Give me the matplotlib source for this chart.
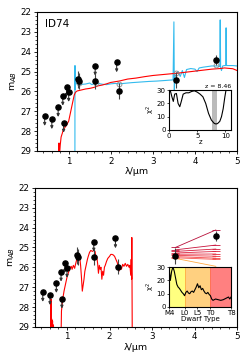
import numpy as np
import matplotlib
matplotlib.use("Agg")
import matplotlib.pyplot as plt

# ---------------- data ----------------
# photometry: upper limits
lim_wl = [0.43, 0.60, 0.75, 0.86, 0.88, 0.95, 1.00, 1.63, 2.14]
lim_mag = [27.24, 27.40, 26.79, 26.22, 27.58, 25.78, 26.03, 24.71, 24.54]
# photometry: detections
det_wl = [1.23, 1.25, 1.63, 2.20, 3.54, 4.50]
det_mag = [25.40, 25.48, 25.48, 25.98, 25.43, 24.44]
det_err = [0.42, 0.42, 0.42, 0.38, 0.42, 0.25]

# high-z galaxy template (red), z = 8.46
gal_wl = [0.76, 0.77, 0.78, 0.80, 0.82, 0.85, 0.87, 0.90, 0.95, 1.00, 1.03, 1.06,
          1.10, 1.13, 1.16, 1.20, 1.30, 1.40, 1.50, 1.60, 1.70, 1.80, 1.90, 2.00,
          2.20, 2.40, 2.60, 2.80, 3.00, 3.20, 3.40, 3.60, 3.80, 4.00, 4.20, 4.40,
          4.60, 4.70, 4.80, 4.90, 5.00]
gal_mag = [29.5, 28.6, 29.3, 28.7, 28.3, 28.1, 27.95, 27.85, 27.7, 27.5, 27.2, 26.9,
           26.5, 26.2, 26.05, 25.98, 25.93, 25.88, 25.85, 25.80, 25.72, 25.68, 25.62, 25.55,
           25.48, 25.38, 25.33, 25.26, 25.20, 25.16, 25.12, 25.08, 25.03, 24.98, 24.93, 24.88,
           24.85, 24.82, 24.84, 24.86, 24.95]

# low-z galaxy template (blue)
lowz_wl = [1.148, 1.150, 1.152, 1.156, 1.20, 1.30, 1.40, 1.50, 1.55, 1.60, 1.70, 1.80,
           1.90, 2.00, 2.10, 2.20, 2.30, 2.50, 2.70, 2.90, 3.10, 3.30, 3.48, 3.50,
           3.51, 3.52, 3.55, 3.60, 3.65, 3.70, 3.75, 3.80, 3.90, 4.00, 4.05, 4.10,
           4.20, 4.30, 4.40, 4.55, 4.59, 4.60, 4.61, 4.63, 4.66, 4.70, 4.73, 4.74,
           4.75, 4.76, 4.80, 4.90, 5.00]
lowz_mag = [29.5, 24.7, 25.9, 25.60, 25.62, 25.65, 25.63, 25.58, 25.66, 25.62, 25.60, 25.64,
            25.66, 25.62, 25.60, 25.62, 25.60, 25.56, 25.53, 25.50, 25.48, 25.45, 25.42, 22.5,
            25.95, 25.30, 25.15, 25.00, 25.25, 24.95, 25.30, 24.90, 24.85, 24.88, 25.00, 24.82,
            24.78, 24.75, 24.72, 24.72, 24.75, 22.4, 24.80, 24.95, 24.72, 24.70, 24.70, 22.8,
            24.70, 24.70, 24.70, 24.70, 24.72]
# low-z model photometry
modl_wl = [1.25, 1.65, 2.20, 3.55, 4.50]
modl_mag = [25.60, 25.58, 25.65, 25.05, 24.68]

# brown dwarf template (bottom)
bd_wl = [0.62, 0.625, 0.63, 0.64, 0.65, 0.66, 0.67, 0.68, 0.70, 0.86, 0.87, 0.88, 0.90, 0.93,
         0.96, 1.00, 1.03, 1.06, 1.08, 1.10, 1.12, 1.15, 1.18, 1.20, 1.23, 1.26, 1.28,
         1.30, 1.32, 1.34, 1.36, 1.38, 1.40, 1.42, 1.45, 1.48, 1.50, 1.53, 1.56, 1.60,
         1.63, 1.66, 1.68, 1.70, 1.72, 1.74, 1.76, 1.78, 1.80, 1.82, 1.84, 1.86, 1.88,
         1.90, 1.93, 1.96, 2.00, 2.03, 2.06, 2.09, 2.12, 2.15, 2.18, 2.20, 2.22, 2.25,
         2.28, 2.31, 2.34, 2.37, 2.40, 2.43, 2.46, 2.48, 2.50, 2.51, 2.52, 2.525, 2.53, 2.535]
bd_mag = [29.5, 27.6, 29.2, 28.6, 29.3, 28.7, 29.4, 28.9, 29.5, 29.5, 28.2, 28.0, 27.6, 27.2,
          26.9, 26.5, 26.3, 26.1, 26.0, 25.95, 26.1, 25.9, 26.05, 25.85, 25.6, 25.4, 25.35,
          25.5, 25.9, 26.5, 27.2, 26.9, 26.6, 26.2, 25.9, 25.6, 25.45, 25.25, 25.15, 25.2,
          25.15, 25.2, 25.5, 25.45, 25.8, 26.3, 25.9, 26.1, 26.0, 26.6, 26.2, 26.4, 26.0,
          25.9, 25.7, 25.55, 25.45, 25.35, 25.35, 25.38, 25.45, 25.6, 25.75, 25.9, 26.2, 25.95,
          26.1, 25.85, 25.95, 25.8, 25.95, 25.85, 26.0, 25.9, 26.4, 25.6, 26.6, 24.5, 27.0, 29.5]

# dwarf IRAC colours (3.6 -> 4.5 um)
dw_y36 = [25.00, 25.12, 25.20, 25.28, 25.34, 25.40, 25.46, 25.52]
dw_y45 = [24.12, 24.88, 25.08, 25.20, 25.33, 25.44, 25.54, 25.60]
dw_col = ["#b8103a", "#c8143c", "#d41c3c", "#dc2440", "#e42c40", "#ec3844", "#f24448", "#f8564e"]
dw_orange = [25.55, 25.95]

# chi2 vs z inset
chiz_z = [0.2, 0.5, 0.75, 1.0, 1.3, 1.6, 1.9, 2.2, 2.5, 3.0, 3.5, 4.0, 4.5, 5.0, 5.5,
          6.0, 6.5, 7.0, 7.5, 8.0, 8.3, 8.6, 9.0, 9.3, 9.6, 9.9, 10.1]
chiz_chi = [30.0, 25.0, 21.5, 27.0, 27.5, 20.0, 17.5, 22.0, 27.0, 28.0, 28.0, 29.0, 29.5, 28.5, 27.0,
            25.0, 20.0, 12.5, 7.5, 5.0, 4.5, 4.8, 6.5, 10.0, 16.0, 25.0, 30.0]
zbest = 8.46
zband = [7.6, 8.5]

# chi2 vs dwarf type inset (0 = M4 ... 24 = T8)
dt_idx = [0.0, 0.5, 1.0, 1.5, 2.0, 2.5, 3.0, 3.5, 4.0, 4.5, 5.0, 5.5, 6.0, 6.5, 7.0, 7.5,
          8.0, 8.5, 9.0, 9.5, 10.0, 10.5, 11.0, 11.5, 12.0, 12.5, 13.0, 13.5, 14.0, 14.5,
          15.0, 15.5, 16.0, 16.5, 17.0, 18.0, 19.0, 20.0, 21.0, 22.0, 23.0, 23.5, 24.0]
dt_chi = [30.0, 20.0, 27.0, 30.0, 27.0, 22.0, 17.0, 15.0, 14.0, 12.5, 11.0, 10.0, 8.5, 11.0, 12.0, 10.5,
          10.0, 11.5, 12.0, 11.0, 13.0, 15.0, 17.5, 14.5, 16.0, 13.0, 14.0, 12.0, 10.5, 10.0,
          11.0, 9.5, 8.5, 6.0, 5.0, 6.0, 5.5, 5.0, 5.5, 6.5, 7.5, 6.0, 7.5]
dt_ticks = [0, 6, 11, 16, 24]
dt_labels = ["M4", "L0", "L5", "T0", "T8"]

label_id = "ID74"

# ---------------- plotting ----------------
plt.rcParams['font.family'] = ['DejaVu Sans']
fig = plt.figure(figsize=(2.49, 3.62), dpi=100)

def setup_main(ax):
    ax.set_xlim(0.25, 5)
    ax.set_ylim(29, 22)
    ax.set_xticks([1, 2, 3, 4, 5])
    ax.set_yticks([22, 23, 24, 25, 26, 27, 28, 29])
    ax.set_xticks(np.arange(0.4, 5.0, 0.2), minor=True)
    ax.set_yticks(np.arange(22, 29.01, 0.2), minor=True)
    ax.tick_params(labelsize=6.3, length=2.5, width=0.6, pad=1.5)
    ax.tick_params(which='minor', length=1.3, width=0.5)
    ax.set_xlabel("λ/µm", fontsize=6.8, labelpad=1)
    ax.set_ylabel("m$_{AB}$", fontsize=6.8, labelpad=1)
    for s in ax.spines.values():
        s.set_linewidth(0.8)

def draw_phot(ax, z=5):
    for x, y in zip(lim_wl, lim_mag):
        ax.annotate("", xy=(x, y + 0.5), xytext=(x, y),
                    arrowprops=dict(arrowstyle="-|>", color="#333333", lw=0.8,
                                    mutation_scale=4, shrinkA=0, shrinkB=0), zorder=z)
    ax.plot(lim_wl, lim_mag, 'o', color='black', ms=3.7, zorder=z + 1)
    ax.errorbar(det_wl, det_mag, yerr=det_err, fmt='o', color='black', ecolor='#444444',
                ms=3.7, elinewidth=0.8, capsize=0, zorder=z + 1)

# top panel
ax1 = fig.add_axes([0.149, 0.583, 0.803, 0.384])
setup_main(ax1)
ax1.plot(gal_wl, gal_mag, color='red', lw=0.8, zorder=3)
ax1.plot(lowz_wl, lowz_mag, color='#33bbee', lw=0.8, zorder=2)
ax1.plot(modl_wl, modl_mag, 'o', mfc='none', mec='#888888', ms=3.5, mew=0.6, zorder=4)
draw_phot(ax1)
ax1.text(0.04, 0.95, label_id, transform=ax1.transAxes, fontsize=7.5, va='top', ha='left')

# top inset
ins1 = fig.add_axes([0.679, 0.641, 0.249, 0.110])
ins1.axvspan(zband[0], zband[1], color='#bbbbbb', lw=0)
ins1.plot(chiz_z, chiz_chi, color='black', lw=0.8)
ins1.set_xlim(0, 11)
ins1.set_ylim(0, 30)
ins1.set_xticks([0, 5, 10])
ins1.set_yticks([0, 10, 20, 30])
ins1.tick_params(labelsize=5, length=1.5, width=0.5, pad=1)
ins1.set_xlabel("z", fontsize=5, labelpad=0)
ins1.set_ylabel("χ$^2$", fontsize=5, labelpad=0)
ins1.text(1.0, 1.02, "z = %.2f" % zbest, transform=ins1.transAxes, fontsize=4.5,
          ha='right', va='bottom')
for s in ins1.spines.values():
    s.set_linewidth(0.8)

# bottom panel
ax2 = fig.add_axes([0.141, 0.097, 0.811, 0.384])
setup_main(ax2)
ax2.plot(bd_wl, bd_mag, color='red', lw=0.8, zorder=3)
for y1, y2, c in zip(dw_y36, dw_y45, dw_col):
    ax2.plot([3.55, 4.5], [y1, y2], color=c, lw=0.6, marker='_', ms=6, mew=0.6, zorder=2)
ax2.plot([3.55, 4.5], dw_orange, color='#ffaa44', lw=0.6, zorder=1)
draw_phot(ax2)

# bottom inset
ins2 = fig.add_axes([0.679, 0.152, 0.249, 0.110])
ins2.axvspan(0, 6, color='#ffff80', lw=0)
ins2.axvspan(6, 16, color='#ffd080', lw=0)
ins2.axvspan(16, 24, color='#ff8080', lw=0)
ins2.axvline(6, color='#ffb040', lw=0.6)
ins2.axvline(16, color='#ff7050', lw=0.6)
ins2.plot(dt_idx, dt_chi, color='black', lw=0.8)
ins2.set_xlim(0, 24)
ins2.set_ylim(0, 30)
ins2.set_xticks(dt_ticks)
ins2.set_xticklabels(dt_labels)
ins2.set_yticks([0, 10, 20, 30])
ins2.tick_params(labelsize=5, length=1.5, width=0.5, pad=1)
ins2.set_xlabel("Dwarf Type", fontsize=5, labelpad=0)
ins2.set_ylabel("χ$^2$", fontsize=5, labelpad=0)
for s in ins2.spines.values():
    s.set_linewidth(0.8)

fig.savefig("out.png", dpi=100)
